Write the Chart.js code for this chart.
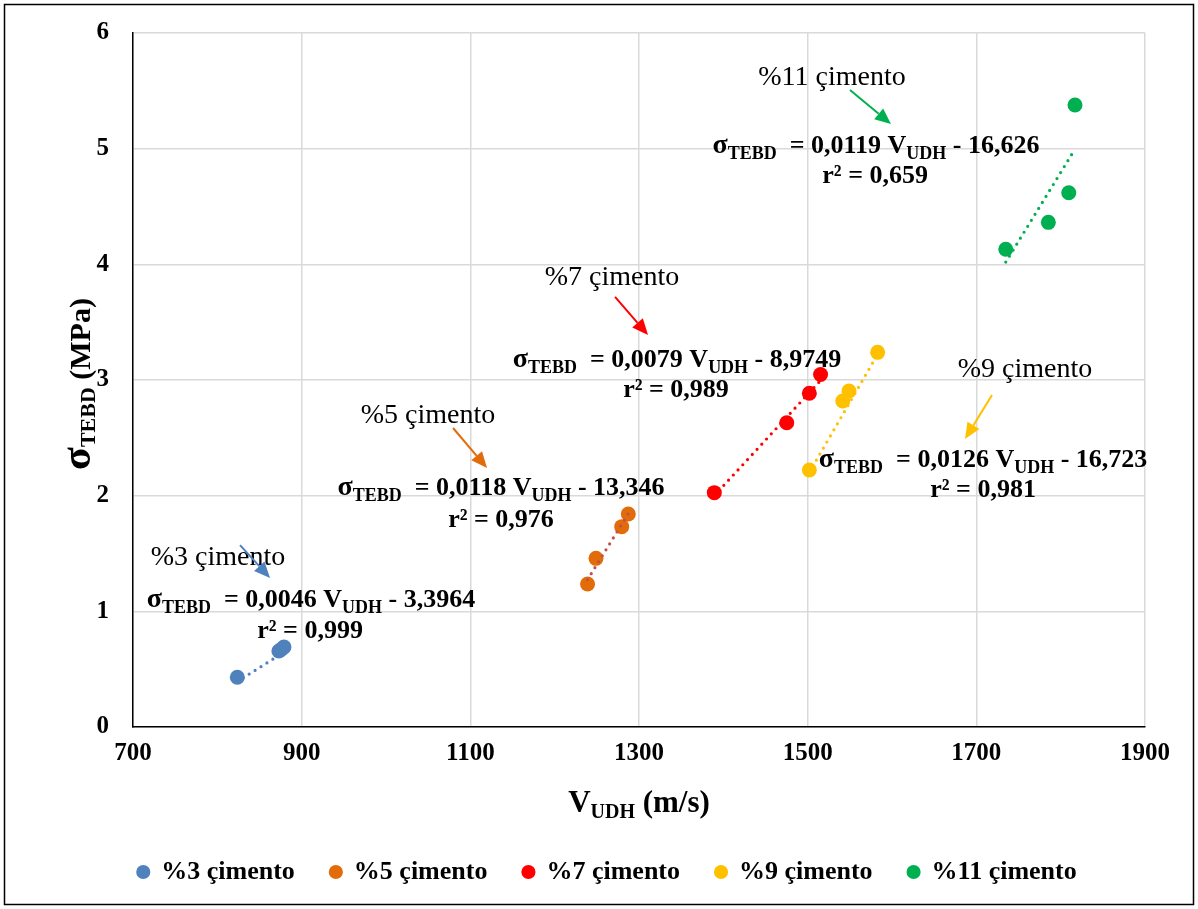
<!DOCTYPE html>
<html>
<head>
<meta charset="utf-8">
<script src="https://cdn.jsdelivr.net/npm/chart.js@4/dist/chart.umd.min.js"></script>
<style>
  html, body { margin: 0; padding: 0; background: #ffffff; }
  #wrap { width: 1198px; height: 909px; }
</style>
</head>
<body>
<div id="wrap"><canvas id="c" width="1198" height="909"></canvas></div>
<script>
// Series: ultrasonic pulse velocity (m/s) vs. strength (MPa) per cement ratio
const seriesNames = ['%3 çimento', '%5 çimento', '%7 çimento', '%9 çimento', '%11 çimento'];
const seriesColors = ['#4f81bd', '#e36c0a', '#ff0000', '#ffc000', '#00b050'];
const trendColors  = ['#4f81bd', '#c0504d', '#ff0000', '#ffc000', '#00b050'];

const v3  = [823.7, 873.0, 876.0, 879.0];
const s3  = [0.430, 0.657, 0.672, 0.692];
const v5  = [1239.0, 1249.0, 1279.5, 1287.3];
const s5  = [1.236, 1.458, 1.732, 1.841];
const v7  = [1389.3, 1475.2, 1502.0, 1515.3];
const s7  = [2.026, 2.631, 2.885, 3.047];
const v9  = [1502.0, 1541.6, 1549.0, 1583.0];
const s9  = [2.222, 2.818, 2.905, 3.239];
const v11 = [1734.9, 1785.4, 1809.6, 1817.0];
const s11 = [4.130, 4.363, 4.619, 5.377];

// Linear fits: sigma = slope * V + intercept
const slopes     = [0.0046, 0.0118, 0.0079, 0.0126, 0.0119];
const intercepts = [-3.3964, -13.346, -8.9749, -16.723, -16.626];
const rSquared   = [0.999, 0.976, 0.989, 0.981, 0.659];

const xTicks = [700, 900, 1100, 1300, 1500, 1700, 1900];
const yTicks = [0, 1, 2, 3, 4, 5, 6];

const velocities = [v3, v5, v7, v9, v11];
const strengths  = [s3, s5, s7, s9, s11];

// Where each series' callout sits (axis units)
const callouts = [
  { label: [800.8, 1.40], arrow: [826.9, 1.573, 862.5, 1.288], eq: [911, 1.037], r2: [910, 0.769] },
  { label: [1049.8, 2.628], arrow: [1079.5, 2.585, 1119.8, 2.239], eq: [1136.4, 2.006], r2: [1136.4, 1.729] },
  { label: [1268, 3.821], arrow: [1271.6, 3.718, 1310.7, 3.389], eq: [1345.1, 3.112], r2: [1343.9, 2.853] },
  { label: [1757.7, 3.026], arrow: [1718.6, 2.870, 1686.6, 2.490], eq: [1708, 2.248], r2: [1708, 1.988] },
  { label: [1528.9, 5.550], arrow: [1550.2, 5.507, 1598.8, 5.213], eq: [1581, 4.962], r2: [1580, 4.703] }
];

const SERIF = '"Liberation Serif", "Times New Roman", serif';
const fmt = v => String(Math.abs(v)).replace('.', ',');

const datasets = [];
seriesNames.forEach((name, i) => {
  datasets.push({
    type: 'scatter',
    label: name,
    data: velocities[i].map((v, k) => ({ x: v, y: strengths[i][k] })),
    backgroundColor: seriesColors[i],
    borderColor: seriesColors[i],
    pointRadius: 7.5,
    pointHoverRadius: 7.5,
    pointBorderWidth: 0,
    order: 2
  });
});
seriesNames.forEach((name, i) => {
  const xs = velocities[i];
  const lo = Math.min(...xs), hi = Math.max(...xs);
  datasets.push({
    type: 'line',
    label: name + ' trend',
    isTrend: true,
    data: [lo, hi].map(v => ({ x: v, y: slopes[i] * v + intercepts[i] })),
    borderColor: trendColors[i],
    borderWidth: 3.2,
    borderDash: [0, 7],
    borderCapStyle: 'round',
    pointRadius: 0,
    fill: false,
    order: 1
  });
});

function drawRich(ctx, parts, cx, baseline) {
  let total = 0;
  parts.forEach(p => { ctx.font = p.font; p.w = ctx.measureText(p.t).width; total += p.w; });
  let xx = cx - total / 2;
  ctx.textAlign = 'left';
  ctx.textBaseline = 'alphabetic';
  parts.forEach(p => { ctx.font = p.font; ctx.fillText(p.t, xx, baseline + (p.dy || 0)); xx += p.w; });
}

function drawArrow(ctx, x1, y1, x2, y2, color) {
  const ang = Math.atan2(y2 - y1, x2 - x1);
  const headL = 16, headW = 7;
  const bx = x2 - headL * Math.cos(ang), by = y2 - headL * Math.sin(ang);
  ctx.strokeStyle = color; ctx.fillStyle = color; ctx.lineWidth = 2;
  ctx.beginPath(); ctx.moveTo(x1, y1); ctx.lineTo(bx, by); ctx.stroke();
  ctx.beginPath();
  ctx.moveTo(x2, y2);
  ctx.lineTo(bx + headW * Math.sin(ang), by - headW * Math.cos(ang));
  ctx.lineTo(bx - headW * Math.sin(ang), by + headW * Math.cos(ang));
  ctx.closePath(); ctx.fill();
}

const frame = {
  id: 'frame',
  beforeDraw(chart) {
    const ctx = chart.ctx;
    ctx.save();
    ctx.fillStyle = '#ffffff';
    ctx.fillRect(0, 0, chart.width, chart.height);
    ctx.strokeStyle = '#000000';
    ctx.lineWidth = 1.5;
    ctx.strokeRect(4.5, 4.5, chart.width - 9, chart.height - 9);
    ctx.restore();
  },
  afterDraw(chart) {
    const { ctx, chartArea: a, scales: { x, y } } = chart;
    ctx.save();
    ctx.fillStyle = '#000000';
    // axis titles
    const big = 'bold 31px ' + SERIF, sub = 'bold 20px ' + SERIF;
    drawRich(ctx, [
      { t: 'V', font: big },
      { t: 'UDH', font: sub, dy: 6 },
      { t: ' (m/s)', font: big }
    ], (a.left + a.right) / 2, a.bottom + 85);
    ctx.save();
    ctx.translate(a.left - 43, (a.top + a.bottom) / 2 + 4);
    ctx.rotate(-Math.PI / 2);
    drawRich(ctx, [
      { t: 'σ', font: 'bold 42px ' + SERIF },
      { t: 'TEBD', font: 'bold 22px ' + SERIF, dy: 5 },
      { t: ' (MPa)', font: 'bold 30px ' + SERIF }
    ], 0, 0);
    ctx.restore();

    // callouts
    const eqFont = 'bold 26px ' + SERIF, eqSub = 'bold 18px ' + SERIF;
    callouts.forEach((c, i) => {
      ctx.fillStyle = '#000000';
      ctx.font = '28px ' + SERIF;
      ctx.textAlign = 'center';
      ctx.textBaseline = 'alphabetic';
      ctx.fillText(seriesNames[i], x.getPixelForValue(c.label[0]), y.getPixelForValue(c.label[1]));
      drawArrow(ctx,
        x.getPixelForValue(c.arrow[0]), y.getPixelForValue(c.arrow[1]),
        x.getPixelForValue(c.arrow[2]), y.getPixelForValue(c.arrow[3]), seriesColors[i]);
      ctx.fillStyle = '#000000';
      drawRich(ctx, [
        { t: 'σ', font: 'bold 28px ' + SERIF },
        { t: 'TEBD', font: eqSub, dy: 6 },
        { t: '  = ' + fmt(slopes[i]) + ' V', font: eqFont },
        { t: 'UDH', font: eqSub, dy: 6 },
        { t: ' - ' + fmt(intercepts[i]), font: eqFont }
      ], x.getPixelForValue(c.eq[0]), y.getPixelForValue(c.eq[1]));
      drawRich(ctx, [
        { t: 'r² = ' + fmt(rSquared[i]), font: eqFont }
      ], x.getPixelForValue(c.r2[0]), y.getPixelForValue(c.r2[1]));
    });
    ctx.restore();
  }
};

new Chart(document.getElementById('c'), {
  data: { datasets },
  options: {
    responsive: false,
    animation: false,
    devicePixelRatio: 1,
    layout: { padding: { left: 70, top: 33, right: 53, bottom: 14 } },
    plugins: {
      tooltip: { enabled: false },
      legend: {
        position: 'bottom',
        labels: {
          filter: (item, data) => !data.datasets[item.datasetIndex].isTrend,
          usePointStyle: true,
          pointStyle: 'circle',
          boxWidth: 10,
          boxHeight: 10,
          padding: 36,
          color: '#000000',
          font: { family: SERIF, size: 26, weight: 'bold' }
        }
      }
    },
    scales: {
      x: {
        type: 'linear',
        min: 700, max: 1900,
        afterBuildTicks: s => { s.ticks = xTicks.map(v => ({ value: v })); },
        afterFit: s => { s.height = 96; },
        grid: { color: '#d9d9d9', lineWidth: 1.5, drawTicks: false },
        border: { color: '#000000', width: 1.5 },
        ticks: { padding: 12, color: '#000000', callback: v => String(v), font: { family: SERIF, size: 25, weight: 'bold' } }
      },
      y: {
        type: 'linear',
        min: 0, max: 6,
        afterBuildTicks: s => { s.ticks = yTicks.map(v => ({ value: v })); },
        afterFit: s => { s.width = 63; },
        grid: { color: '#d9d9d9', lineWidth: 1.5, drawTicks: true, tickLength: 22, tickColor: 'rgba(0,0,0,0)' },
        border: { color: '#000000', width: 1.5 },
        ticks: { padding: 2, color: '#000000', callback: v => String(v), font: { family: SERIF, size: 25, weight: 'bold' } }
      }
    }
  },
  plugins: [frame]
});
</script>
</body>
</html>
